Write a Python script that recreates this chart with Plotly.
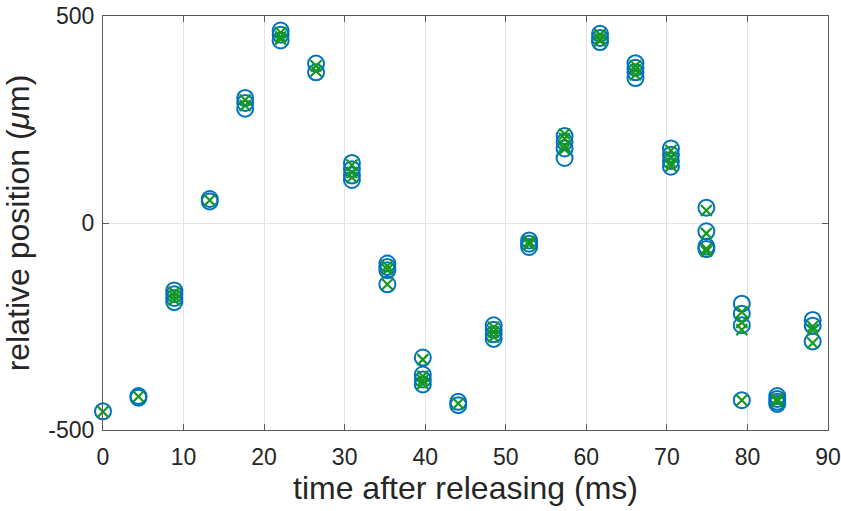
import plotly.graph_objects as go

# time after releasing (ms) for each measurement column
times = [0.0, 4.4, 8.85, 13.25, 17.65, 22.05, 26.45, 30.9, 35.3, 39.7, 44.1,
         48.5, 52.9, 57.3, 61.7, 66.1, 70.5, 74.9, 79.3, 83.7, 88.1]

# measured positions (blue circles), one list per time column
circle_vals = [
    [-455],
    [-418, -422],
    [-163, -172, -181, -191],
    [52, 58],
    [302, 290, 276],
    [465, 455, 441],
    [385, 364],
    [145, 130, 115, 104],
    [-98, -106, -114, -148],
    [-325, -366, -378, -390],
    [-432, -440],
    [-247, -258, -269, -280],
    [-42, -50, -58],
    [210, 196, 180, 157],
    [457, 447, 437],
    [386, 375, 364, 350],
    [180, 165, 150, 136],
    [37, -20, -57, -63],
    [-195, -219, -247, -428],
    [-418, -425, -432, -437],
    [-234, -248, -286],
]

# model positions (green crosses), one list per time column
cross_vals = [
    [-456],
    [-419],
    [-168, -177, -186],
    [55],
    [297, 284],
    [460, 450, 444],
    [380, 367],
    [140, 122, 110],
    [-104, -113, -148],
    [-330, -370, -380, -388],
    [-436],
    [-252, -263, -275],
    [-45, -52],
    [215, 204, 186, 178],
    [455, 445, 440],
    [380, 370, 358],
    [175, 160, 146, 138],
    [30, -25, -62, -68],
    [-215, -240, -258, -428],
    [-425, -431],
    [-250, -258, -290],
]

# axis ticks
x_ticks = [0, 10, 20, 30, 40, 50, 60, 70, 80, 90]
y_ticks = [-500, 0, 500]
y_tick_text = ["-500", "0", "500"]

cx, cy = [], []
for t, vals in zip(times, circle_vals):
    for v in vals:
        cx.append(t)
        cy.append(v)
xx, xy = [], []
for t, vals in zip(times, cross_vals):
    for v in vals:
        xx.append(t)
        xy.append(v)

BLUE = "#0072BD"
GREEN = "#16981E"
AXC = "#262626"
LINEC = "#5A5A5A"

fig = go.Figure()
fig.add_trace(go.Scatter(
    x=cx, y=cy, mode="markers",
    marker=dict(symbol="circle-open", size=16, color=BLUE, line=dict(width=2, color=BLUE)),
    showlegend=False, cliponaxis=False))
fig.add_trace(go.Scatter(
    x=xx, y=xy, mode="markers",
    marker=dict(symbol="x-thin-open", size=11, color=GREEN, line=dict(width=2.2, color=GREEN)),
    showlegend=False, cliponaxis=False))

font_family = "Liberation Sans, Arial, sans-serif"
fig.update_layout(
    width=841, height=511,
    margin=dict(l=103, r=13, t=16, b=81),
    paper_bgcolor="white", plot_bgcolor="white",
    font=dict(family=font_family, color=AXC),
    xaxis=dict(
        range=[0, 90], tickvals=x_ticks, ticks="inside", ticklen=6, tickcolor=LINEC,
        showline=True, linecolor=LINEC, linewidth=1, mirror="ticks",
        showgrid=True, gridcolor="#E3E3E3", gridwidth=1, zeroline=False,
        automargin=False, ticklabelstandoff=6,
        tickfont=dict(size=23, color=AXC),
        title=dict(text="time after releasing (ms)", font=dict(size=32, color=AXC), standoff=8),
    ),
    yaxis=dict(
        range=[-500, 500], tickvals=y_ticks, ticktext=y_tick_text, ticks="inside", ticklen=6,
        tickcolor=LINEC,
        showline=True, linecolor=LINEC, linewidth=1, mirror="ticks",
        showgrid=True, gridcolor="#E3E3E3", gridwidth=1, zeroline=False,
        automargin=False, ticklabelstandoff=3,
        tickfont=dict(size=23, color=AXC),
        title=dict(text="relative position (<i>μ</i>m)", font=dict(size=32, color=AXC), standoff=10),
    ),
)

fig.write_html("out.html")
